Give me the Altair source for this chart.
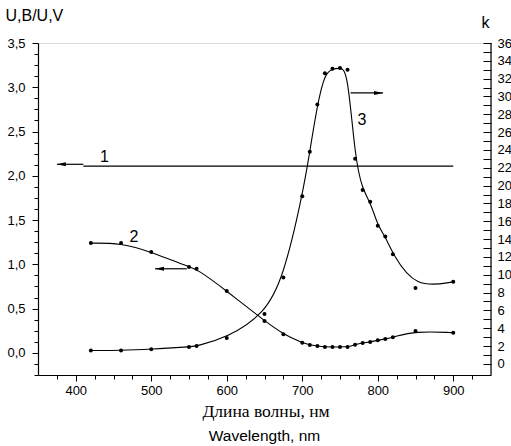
import altair as alt
import pandas as pd

# ---- data ----
wavelength = [420, 460, 500, 550, 560, 600, 650, 675, 700, 710, 720, 730, 740,
              750, 760, 770, 780, 790, 800, 810, 820, 850, 900]
# curve 2 (left axis, U,B/U,V)
curve2 = [1.24, 1.24, 1.14, 0.97, 0.95, 0.70, 0.36, 0.21, 0.115, 0.09, 0.078,
          0.067, 0.067, 0.067, 0.067, 0.093, 0.112, 0.123, 0.142, 0.157, 0.176,
          0.247, 0.228]
# curve 3 (right axis, k)
curve3 = [1.5, 1.5, 1.65, 1.9, 2.0, 2.9, 5.6, 9.7, 18.8, 23.8, 29.1, 32.6, 33.1,
          33.2, 33.0, 23.0, 19.5, 18.2, 15.5, 14.3, 12.3, 8.5, 9.2]
# curve 1 (horizontal line, left axis)
line1_wl = [410, 900]
line1_u = [2.11, 2.11]

# annotations: arrows and labels
arrow1 = {"x": 375, "x2": 410, "u": 2.13}
arrow2 = {"x": 505, "x2": 547, "u": 0.95}
arrow3 = {"x": 764, "x2": 807, "k": 30.4}
labels_left = pd.DataFrame({"wl": [438, 477], "u": [2.21, 1.31], "t": ["1", "2"]})
labels_right = pd.DataFrame({"wl": [779], "k": [27.4], "t": ["3"]})

W, H = 453, 332
SANS = "Liberation Sans"

x_scale = alt.Scale(domain=[350, 950], nice=False, zero=False)
yl_scale = alt.Scale(domain=[-0.25, 3.5], nice=False, zero=False)
yr_scale = alt.Scale(domain=[-1.25, 36], nice=False, zero=False)

x_axis = alt.Axis(
    values=list(range(375, 950, 25)),
    labelExpr="datum.value % 100 === 0 ? datum.label : ''",
    tickSize={"condition": {"test": "datum.value % 100 === 0", "value": 6}, "value": 4},
    labelPadding=3, labelFont=SANS, labelFontSize=13, labelColor="black",
    grid=False, domainColor="black", tickColor="black", domainWidth=1.2,
    title="Длина волны, нм", titleFont="Liberation Serif", titleFontSize=17.5,
    titleFontWeight="normal", titleColor="black", titleBaseline="alphabetic",
    titleY=41, titleX=W / 2 + 1,
)

left_vals = [-0.25 + i * 0.125 for i in range(31)]
yl_axis = alt.Axis(
    values=left_vals,
    labelExpr="datum.value % 0.5 === 0 ? replace(format(datum.value, '.1f'), '.', ',') : ''",
    tickSize={"condition": {"test": "datum.value % 0.5 === 0", "value": 6}, "value": 4},
    labelPadding=7, labelFont=SANS, labelFontSize=13, labelColor="black",
    grid=False, domainColor="black", tickColor="black", domainWidth=1.2,
    title="U,B/U,V", titleAngle=0, titleAlign="left", titleBaseline="middle",
    titleX=-33, titleY=-28, titleFont=SANS, titleFontSize=16,
    titleFontWeight="normal", titleColor="black",
)

right_vals = list(range(0, 37))
yr_axis = alt.Axis(
    values=right_vals, orient="right", offset=-8, domain=False,
    labelExpr="datum.value % 2 === 0 ? datum.label : ''",
    tickSize=8,
    labelPadding=6, labelFont=SANS, labelFontSize=13, labelColor="black",
    grid=False, tickColor="black",
    title="k", titleAngle=0, titleAlign="left", titleBaseline="middle",
    titleX=-2, titleY=-21, titleFont=SANS, titleFontSize=16,
    titleFontWeight="normal", titleColor="black",
)

X = alt.X("wl:Q", scale=x_scale, axis=x_axis)
YL = alt.Y("u:Q", scale=yl_scale, axis=yl_axis)
YR = alt.Y("k:Q", scale=yr_scale, axis=yr_axis)

df2 = pd.DataFrame({"wl": wavelength, "u": curve2})
df3 = pd.DataFrame({"wl": wavelength, "k": curve3})
df1 = pd.DataFrame({"wl": line1_wl, "u": line1_u})

HEAD_L = "M0,0L1,-0.22L1,0.22Z"
HEAD_R = "M0,0L-1,-0.22L-1,0.22Z"

line1 = alt.Chart(df1).mark_line(color="black", strokeWidth=1.2).encode(x=X, y=YL)

a1 = pd.DataFrame({"wl": [arrow1["x"]], "wl2": [arrow1["x2"]], "u": [arrow1["u"]]})
a2 = pd.DataFrame({"wl": [arrow2["x"]], "wl2": [arrow2["x2"]], "u": [arrow2["u"]]})
a3 = pd.DataFrame({"wl": [arrow3["x"]], "wl2": [arrow3["x2"]], "k": [arrow3["k"]]})

def arrow_left(df):
    rule = alt.Chart(df).mark_rule(color="black", strokeWidth=1.2).encode(x=X, x2="wl2:Q", y=YL)
    head = alt.Chart(df).mark_point(shape=HEAD_L, filled=True, size=324, color="black",
                                    opacity=1, strokeWidth=0).encode(x=X, y=YL)
    return [rule, head]

arr3_rule = alt.Chart(a3).mark_rule(color="black", strokeWidth=1.2).encode(x=X, x2="wl2:Q", y=YR)
arr3_head = alt.Chart(a3).mark_point(shape=HEAD_R, filled=True, size=324, color="black",
                                     opacity=1, strokeWidth=0).encode(
    x=alt.X("wl2:Q", scale=x_scale, axis=x_axis), y=YR)

c2_line = alt.Chart(df2).mark_line(color="black", strokeWidth=1.1,
                                   interpolate="basis").encode(x=X, y=YL)
c2_pts = alt.Chart(df2).mark_circle(color="black", size=16, opacity=1).encode(x=X, y=YL)
lab_l = alt.Chart(labels_left).mark_text(font=SANS, fontSize=16, color="black").encode(
    x=X, y=YL, text="t:N")

c3_line = alt.Chart(df3).mark_line(color="black", strokeWidth=1.1,
                                   interpolate="basis").encode(x=X, y=YR)
c3_pts = alt.Chart(df3).mark_circle(color="black", size=16, opacity=1).encode(x=X, y=YR)
lab_r = alt.Chart(labels_right).mark_text(font=SANS, fontSize=16, color="black").encode(
    x=X, y=YR, text="t:N")
right_domain = alt.Chart(df3.head(1)).mark_rule(color="black", strokeWidth=1.2).encode(
    x=alt.value(W), y=alt.value(0), y2=alt.value(H))

left = alt.layer(line1, *arrow_left(a1), *arrow_left(a2), c2_line, c2_pts, lab_l)
right = alt.layer(c3_line, c3_pts, arr3_rule, arr3_head, lab_r, right_domain)

chart = alt.layer(left, right).resolve_scale(y="independent").properties(
    width=W, height=H,
    autosize=alt.AutoSizeParams(type="none"),
    padding={"left": 38, "top": 43, "right": 20, "bottom": 71},
    title=alt.TitleParams("Wavelength, nm", orient="bottom", anchor="middle",
                          font=SANS, fontSize=15.5, fontWeight="normal",
                          color="black", offset=9),
).configure_view(stroke=None).configure(background="white")

chart.save("out.html", embed_options={"renderer": "svg", "actions": False})
